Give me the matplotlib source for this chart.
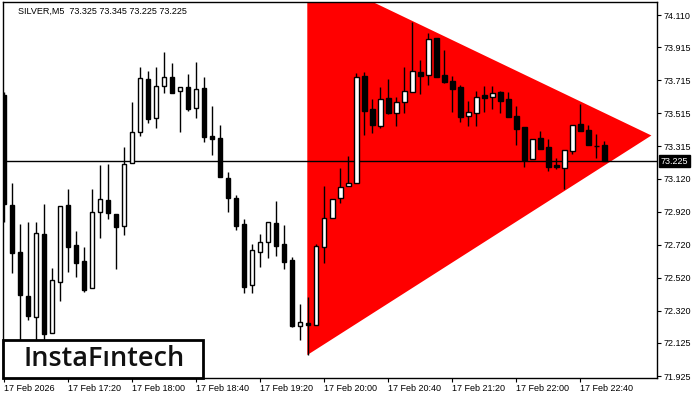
import matplotlib.pyplot as plt
from matplotlib.patches import Polygon, Rectangle
import matplotlib.transforms as mtransforms

# SILVER M5 candles, 17 Feb 2026 from 16:40
opens = [73.626, 72.960, 72.675, 72.409, 72.282, 72.784, 72.185, 72.494, 72.960, 72.718,
         72.621, 72.458, 72.918, 72.990, 72.905, 72.833, 73.214, 73.402, 73.723, 73.487,
         73.680, 73.735, 73.650, 73.674, 73.547, 73.668, 73.378, 73.365, 73.123, 73.002,
         72.845, 72.476, 72.675, 72.736, 72.851, 72.724, 72.627, 72.228, 72.246, 72.234,
         72.706, 72.881, 73.002, 73.075, 73.093, 73.741, 73.541, 73.438, 73.608, 73.517,
         73.583, 73.644, 73.765, 73.747, 73.971, 73.747, 73.711, 73.674, 73.499, 73.517,
         73.626, 73.614, 73.644, 73.602, 73.499, 73.432, 73.238, 73.365, 73.311, 73.202,
         73.184, 73.287, 73.450, 73.414, 73.317, 73.325]
highs = [73.644, 73.093, 72.845, 72.857, 72.857, 72.966, 72.579, 72.954, 73.057, 72.803,
         72.706, 73.057, 73.202, 73.208, 72.905, 73.311, 73.583, 73.795, 73.771, 73.795,
         73.886, 73.819, 73.674, 73.753, 73.826, 73.735, 73.559, 73.444, 73.160, 73.020,
         72.875, 72.724, 72.784, 72.857, 72.984, 72.839, 72.645, 72.361, 72.403, 72.724,
         73.075, 72.996, 73.184, 73.256, 73.759, 73.765, 73.602, 73.674, 73.723, 73.614,
         73.795, 74.068, 73.838, 74.001, 73.971, 73.898, 73.741, 73.686, 73.589, 73.650,
         73.680, 73.680, 73.650, 73.644, 73.559, 73.432, 73.359, 73.408, 73.359, 73.244,
         73.293, 73.444, 73.571, 73.444, 73.390, 73.345]
lows = [72.857, 72.548, 72.143, 72.264, 72.143, 72.143, 72.185, 72.379, 72.554, 72.524,
        72.433, 72.458, 72.760, 72.875, 72.573, 72.778, 73.214, 73.378, 73.456, 73.426,
        73.638, 73.638, 73.402, 73.529, 73.487, 73.341, 73.263, 73.129, 72.918, 72.809,
        72.427, 72.427, 72.585, 72.639, 72.651, 72.573, 72.221, 72.143, 72.052, 72.234,
        72.609, 72.881, 72.972, 73.075, 73.093, 73.384, 73.396, 73.426, 73.511, 73.438,
        73.517, 73.644, 73.632, 73.686, 73.735, 73.698, 73.523, 73.462, 73.438, 73.438,
        73.523, 73.541, 73.517, 73.493, 73.323, 73.190, 73.238, 73.299, 73.166, 73.178,
        73.057, 73.269, 73.408, 73.323, 73.244, 73.225]
closes = [72.966, 72.669, 72.415, 72.288, 72.790, 72.179, 72.506, 72.954, 72.706, 72.609,
          72.445, 72.918, 72.996, 72.912, 72.827, 73.208, 73.402, 73.729, 73.480, 73.680,
          73.735, 73.638, 73.674, 73.541, 73.662, 73.372, 73.359, 73.129, 73.002, 72.833,
          72.464, 72.688, 72.736, 72.857, 72.712, 72.615, 72.228, 72.252, 72.234, 72.712,
          72.881, 72.996, 73.069, 73.093, 73.735, 73.529, 73.444, 73.602, 73.517, 73.583,
          73.650, 73.771, 73.741, 73.965, 73.735, 73.705, 73.662, 73.493, 73.523, 73.614,
          73.608, 73.638, 73.589, 73.493, 73.420, 73.232, 73.359, 73.299, 73.190, 73.190,
          73.293, 73.444, 73.408, 73.323, 73.317, 73.225]

time_labels = ['17 Feb 2026', '17 Feb 17:20', '17 Feb 18:00', '17 Feb 18:40', '17 Feb 19:20',
               '17 Feb 20:00', '17 Feb 20:40', '17 Feb 21:20', '17 Feb 22:00', '17 Feb 22:40']
price_ticks = [74.110, 73.915, 73.715, 73.515, 73.315, 73.120,
               72.920, 72.720, 72.520, 72.320, 72.125, 71.925]

# triangle pattern (bar index, price)
triangle_x = [37.9, 37.9, 80.9]
triangle_y = [74.379, 72.052, 73.381]

last_price = 73.225
title = 'SILVER,M5  73.325 73.345 73.225 73.225'

plt.rcParams['font.family'] = ['Liberation Sans', 'DejaVu Sans']

fig = plt.figure(figsize=(7, 4), dpi=100)
ax = fig.add_axes([3 / 700, 22 / 400, 654 / 700, 376 / 400])

n = len(opens)
ax.set_xlim(-0.125, 81.6)
ax.set_ylim(71.913, 74.189)

# red triangle
ax.add_patch(Polygon(list(zip(triangle_x, triangle_y)), closed=True,
                     facecolor='#ff0000', edgecolor='none', zorder=1))

ax.axhline(last_price, color='black', linewidth=1, zorder=2)

# candles
for i in range(n):
    o, h, l, c = opens[i], highs[i], lows[i], closes[i]
    ax.vlines(i, l, h, color='black', linewidth=1, zorder=3)
    if c == o:
        ax.hlines(o, i - 0.3, i + 0.3, color='black', linewidth=1, zorder=4)
        continue
    face = 'white' if c > o else 'black'
    ax.add_patch(Rectangle((i - 0.3, min(o, c)), 0.6, abs(c - o),
                           facecolor=face, edgecolor='black', linewidth=1, zorder=4))

# axes
for s in ax.spines.values():
    s.set_color('black')
    s.set_linewidth(1)
ax.yaxis.tick_right()
ax.set_yticks(price_ticks)
ax.set_yticklabels(['%.3f' % p for p in price_ticks])
ax.tick_params(axis='y', length=3, pad=2, labelsize=6.5, colors='black')

ax.set_xticks(range(0, 8 * len(time_labels), 8))
ax.set_xticklabels(time_labels)
ax.tick_params(axis='x', length=3, pad=1, labelsize=6.5, colors='black')
for lbl in ax.get_xticklabels():
    lbl.set_ha('left')

# last price box
trans = mtransforms.blended_transform_factory(ax.transAxes, ax.transData)
ax.text(1.006, last_price, '%.3f' % last_price, transform=trans, va='center', ha='left',
        color='white', fontsize=6.5,
        bbox=dict(facecolor='black', edgecolor='black', pad=1.2))

ax.text(0.023, 0.988, title, transform=ax.transAxes, va='top', ha='left',
        fontsize=6.5, color='black')

# logo
fig.add_artist(Rectangle((3 / 700, 22 / 400), 200 / 700, 38 / 400, transform=fig.transFigure,
                         facecolor='white', edgecolor='black', linewidth=2, zorder=5))
fig.text(104 / 700, 41 / 400, 'InstaF\u0131ntech', ha='center', va='center',
         fontsize=19.5, fontweight='semibold', family='Open Sans', color='#111111', zorder=6)

plt.savefig('out.png', dpi=100)
